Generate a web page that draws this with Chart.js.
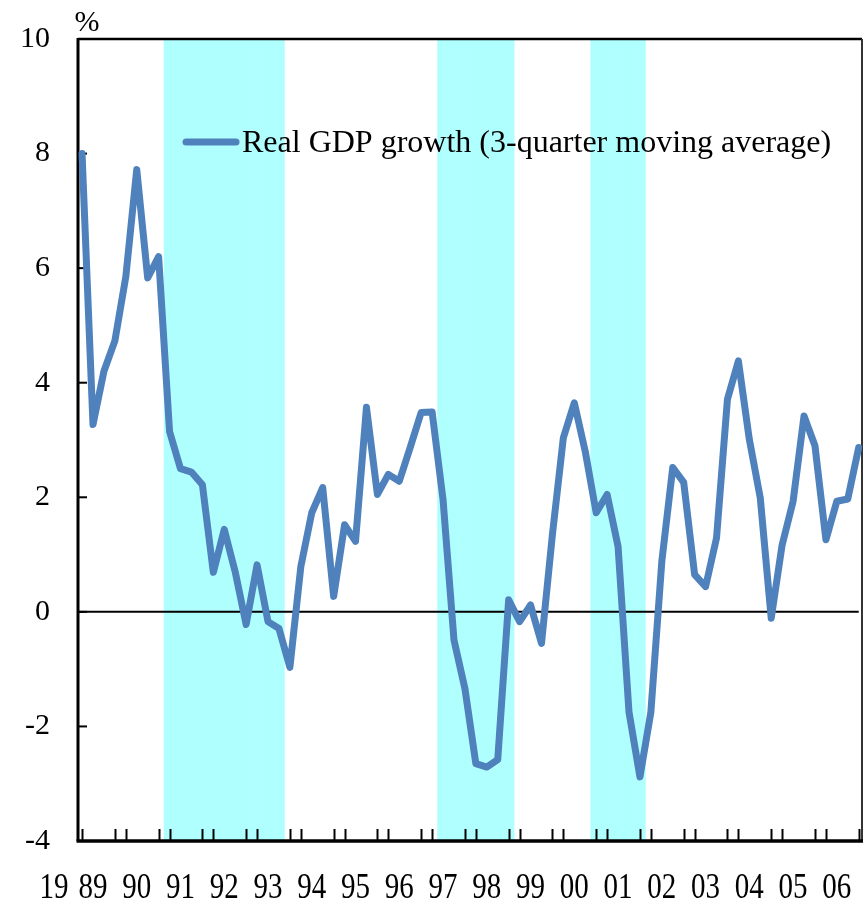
<!DOCTYPE html>
<html>
<head>
<meta charset="utf-8">
<script src="https://cdn.jsdelivr.net/npm/chart.js@4.4.1/dist/chart.umd.min.js"></script>
<style>
  html, body { margin: 0; padding: 0; background: #fff; }
  #wrap { width: 868px; height: 905px; }
</style>
</head>
<body>
<div id="wrap"><canvas id="gdpChart" width="868" height="905"></canvas></div>
<script>
// quarterly data, 1989 Q1 .. 2006 Q4
const yearLabels = ['89', '90', '91', '92', '93', '94', '95', '96', '97',
                    '98', '99', '00', '01', '02', '03', '04', '05', '06'];
const centuryLabel = '19';

const gdpGrowth = [
  8.0, 3.27, 4.2, 4.73,     5.85, 7.72, 5.83, 6.2,
  3.15, 2.5, 2.44, 2.22,    0.69, 1.44, 0.7, -0.22,
  0.82, -0.17, -0.29, -0.97, 0.79, 1.73, 2.17, 0.27,
  1.52, 1.23, 3.57, 2.05,   2.4, 2.28, 2.87, 3.48,
  3.49, 1.96, -0.49, -1.34, -2.65, -2.71, -2.58, 0.21,
  -0.17, 0.12, -0.55, 1.35, 3.04, 3.65, 2.8, 1.73,
  2.05, 1.14, -1.75, -2.88, -1.75, 0.88, 2.52, 2.26,
  0.65, 0.44, 1.29, 3.71,   4.38, 3.01, 1.99, -0.11,
  1.17, 1.93, 3.42, 2.9,    1.26, 1.93, 1.97, 2.87
];

// shaded quarters (index into gdpGrowth)
const recessionQuarters = [8, 9, 10, 11, 12, 13, 14, 15, 16, 17, 18,
                           33, 34, 35, 36, 37, 38, 39,
                           47, 48, 49, 50, 51];

const yMin = -4;
const yMax = 10;
const yStep = 2;
const legendText = 'Real GDP growth (3-quarter moving average)';

const lineColor = '#4f81bd';
const shadeColor = '#b0ffff';
const fontFamily = '"Liberation Serif", "Times New Roman", serif';

const linePoints = gdpGrowth.map((v, i) => ({ x: i, y: v }));
const shadeBars = recessionQuarters.map(i => ({ x: i, y: [yMin, yMax] }));

const framePlugin = {
  id: 'frame',
  beforeDatasetDraw(chart, args) {
    if (args.index !== 1) return;
    const ctx = chart.ctx;
    const area = chart.chartArea;
    const xs = chart.scales.x;
    const ys = chart.scales.y;
    ctx.save();
    ctx.strokeStyle = '#000';

    // zero line
    const y0 = ys.getPixelForValue(0);
    ctx.lineWidth = 2;
    ctx.beginPath();
    ctx.moveTo(area.left, y0);
    ctx.lineTo(xs.getPixelForValue(gdpGrowth.length - 1), y0);
    ctx.stroke();

    // y ticks, pointing inward
    for (let v = yMin; v <= yMax; v += yStep) {
      const py = ys.getPixelForValue(v);
      ctx.beginPath();
      ctx.moveTo(area.left, py);
      ctx.lineTo(area.left + 9, py);
      ctx.stroke();
    }

    // x ticks at each year boundary (last quarter and first quarter)
    const tickIdx = [0];
    for (let k = 1; k < yearLabels.length; k++) tickIdx.push(4 * k - 1, 4 * k);
    tickIdx.push(gdpGrowth.length - 1);
    tickIdx.forEach(i => {
      const px = Math.round(xs.getPixelForValue(i)) + 0.5;
      ctx.beginPath();
      ctx.moveTo(px, area.bottom);
      ctx.lineTo(px, area.bottom - 12);
      ctx.stroke();
    });

    // frame
    ctx.lineWidth = 2.5;
    ctx.beginPath();
    ctx.moveTo(area.left, area.top);
    ctx.lineTo(area.right, area.top);
    ctx.stroke();
    ctx.strokeStyle = '#333';
    ctx.lineWidth = 2;
    ctx.beginPath();
    ctx.moveTo(area.right, area.top);
    ctx.lineTo(area.right, area.bottom);
    ctx.stroke();
    ctx.strokeStyle = '#000';
    ctx.lineWidth = 3;
    ctx.beginPath();
    ctx.moveTo(area.left, area.top - 1);
    ctx.lineTo(area.left, area.bottom);
    ctx.stroke();
    ctx.lineWidth = 3.5;
    ctx.beginPath();
    ctx.moveTo(area.left - 1.5, area.bottom);
    ctx.lineTo(area.right + 1, area.bottom);
    ctx.stroke();
    ctx.restore();
  },
  afterDraw(chart) {
    const ctx = chart.ctx;
    const xs = chart.scales.x;
    ctx.save();
    ctx.fillStyle = '#000';

    // unit label
    ctx.font = '30px ' + fontFamily;
    ctx.textAlign = 'center';
    ctx.textBaseline = 'alphabetic';
    ctx.fillText('%', 87, 31);

    // year labels, slightly tall like the original
    ctx.save();
    ctx.font = '29px ' + fontFamily;
    ctx.textBaseline = 'alphabetic';
    ctx.translate(0, 898);
    ctx.scale(1, 1.25);
    ctx.fillText(centuryLabel, xs.getPixelForValue(1) - 39, 0);
    yearLabels.forEach((lab, k) => {
      ctx.fillText(lab, xs.getPixelForValue(4 * k + 1), 0);
    });
    ctx.restore();

    // legend
    ctx.strokeStyle = lineColor;
    ctx.lineWidth = 7;
    ctx.lineCap = 'round';
    ctx.beginPath();
    ctx.moveTo(186, 142);
    ctx.lineTo(236, 142);
    ctx.stroke();
    ctx.font = '32px ' + fontFamily;
    ctx.textAlign = 'left';
    ctx.textBaseline = 'middle';
    ctx.fillText(legendText, 242, 144);
    ctx.restore();
  }
};

new Chart(document.getElementById('gdpChart'), {
  type: 'line',
  data: {
    datasets: [
      {
        type: 'bar',
        label: 'recession',
        data: shadeBars,
        backgroundColor: shadeColor,
        borderWidth: 0,
        barPercentage: 1,
        categoryPercentage: 1,
        order: 2
      },
      {
        type: 'line',
        label: legendText,
        data: linePoints,
        borderColor: lineColor,
        borderWidth: 7,
        borderJoinStyle: 'round',
        borderCapStyle: 'round',
        pointRadius: 0,
        tension: 0,
        fill: false,
        order: 1
      }
    ]
  },
  options: {
    responsive: false,
    animation: false,
    layout: { autoPadding: false, padding: { left: 0, right: 6, top: 39, bottom: 0 } },
    plugins: {
      legend: { display: false },
      tooltip: { enabled: false }
    },
    scales: {
      x: {
        type: 'linear',
        min: -0.37,
        max: 71.3,
        offset: false,
        grid: { display: false, drawTicks: false },
        border: { display: false },
        afterBuildTicks(scale) {
          scale.ticks = yearLabels.map((_, k) => ({ value: 4 * k + 1 }));
        },
        afterFit(scale) {
          scale.height = 64;
          scale.paddingLeft = 0;
          scale.paddingRight = 0;
        },
        ticks: { display: false, autoSkip: false, maxRotation: 0 }
      },
      y: {
        min: yMin,
        max: yMax,
        grid: { display: false, drawTicks: false },
        border: { display: false },
        afterFit(scale) {
          scale.width = 78;
          scale.paddingTop = 0;
          scale.paddingBottom = 0;
        },
        ticks: {
          stepSize: yStep,
          padding: 28,
          color: '#000',
          font: { family: fontFamily, size: 30 }
        }
      }
    }
  },
  plugins: [framePlugin]
});
</script>
</body>
</html>
